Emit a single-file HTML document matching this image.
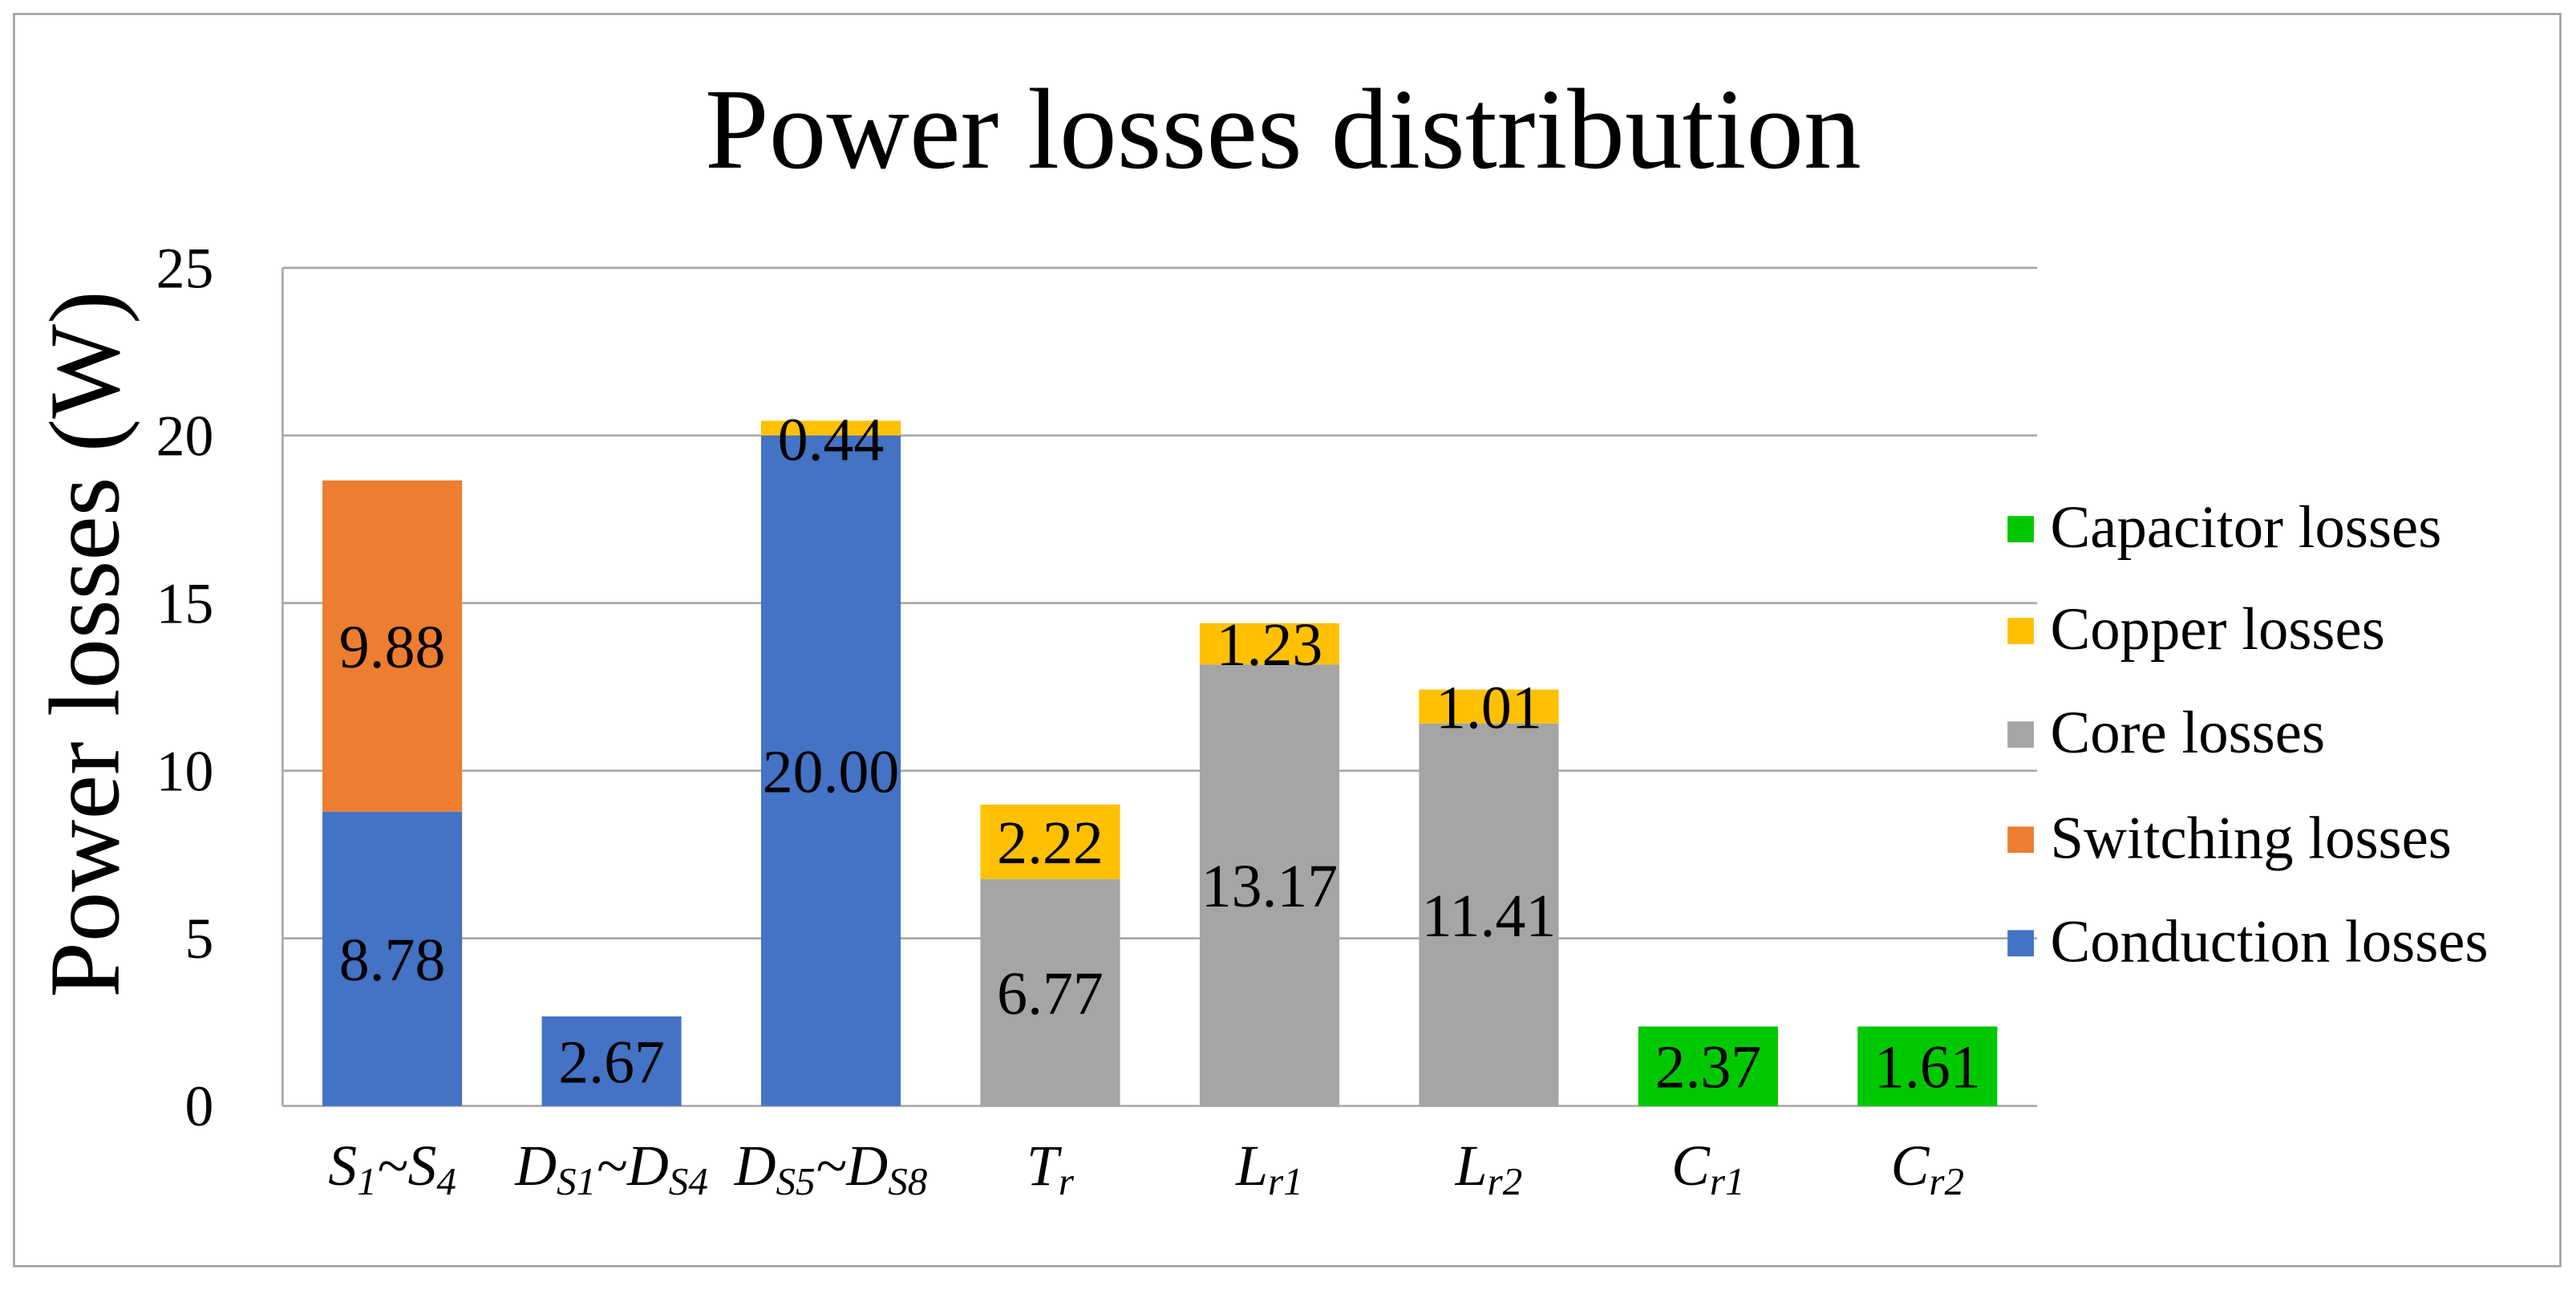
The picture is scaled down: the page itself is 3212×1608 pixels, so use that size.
<!DOCTYPE html>
<html><head><meta charset="utf-8"><style>html,body{margin:0;padding:0;background:#fff}svg{display:block}text{font-family:"Liberation Serif",serif}</style></head>
<body>
<svg id="chart" width="3212" height="1608" viewBox="0 0 1568 785" xmlns="http://www.w3.org/2000/svg">
<rect x="8.5" y="8.5" width="1550" height="762" fill="#fff" stroke="#9a9a9a" stroke-width="1.2"/>
<text x="781" y="102" font-size="70" text-anchor="middle">Power losses distribution</text>
<text transform="translate(72,392) rotate(-90)" font-size="61" text-anchor="middle">Power losses (W)</text>
<g id="grid"></g><g id="bars"></g><g id="labels"></g><g id="legend"></g>
</svg>
<script>
const categories = ["S1~S4","DS1~DS4","DS5~DS8","Tr","Lr1","Lr2","Cr1","Cr2"];
const catMain = [["S","1","~S","4"],["D","S1","~D","S4"],["D","S5","~D","S8"],["T","r"],["L","r1"],["L","r2"],["C","r1"],["C","r2"]];
const conduction = [8.78,2.67,20.00,0,0,0,0,0];
const switching = [9.88,0,0,0,0,0,0,0];
const core = [0,0,0,6.77,13.17,11.41,0,0];
const copper = [0,0,0.44,2.22,1.23,1.01,0,0];
const capacitor = [0,0,0,0,0,0,2.37,2.37];
const capacitorLabels = ["","","","","","","2.37","1.61"];
const yTicks = [0,5,10,15,20,25];
const seriesNames = ["Conduction losses","Switching losses","Core losses","Copper losses","Capacitor losses"];
const NS="http://www.w3.org/2000/svg";
const X0=172,X1=1240,Y0=673,Y1=163,YMAX=25;
const band=(X1-X0)/categories.length, bw=85;
const y=v=>Y0-(Y0-Y1)*v/YMAX;
const xc=i=>X0+band*(i+0.5);
function mk(tag,attrs,parent){const e=document.createElementNS(NS,tag);for(const k in attrs)e.setAttribute(k,attrs[k]);parent.appendChild(e);return e;}
const grid=document.getElementById('grid'),bars=document.getElementById('bars'),labels=document.getElementById('labels'),legend=document.getElementById('legend');
yTicks.forEach(t=>{
  const l=mk('line',{x1:X0,x2:X1,y1:y(t),y2:y(t),stroke:'#a8a8a8','stroke-width':1.3},grid);
  
  
  const tx=mk('text',{x:130,y:y(t)+12,'font-size':35,'text-anchor':'end'},grid);tx.textContent=t;
  
  
});
const ax=mk('line',{x1:X0,x2:X0,y1:Y1,y2:Y0,stroke:'#a8a8a8','stroke-width':1.3},grid);


const series=[{d:conduction,c:'#4472c4'},{d:switching,c:'#ed7d31'},{d:core,c:'#a5a5a5'},{d:copper,c:'#ffc000'},{d:capacitor,c:'#00c800',lab:capacitorLabels}];
categories.forEach((cat,i)=>{
  let base=0;
  series.forEach((s,si)=>{
    const v=s.d[i]; if(!v) return;
    const r=mk('rect',{x:xc(i)-bw/2,y:y(base+v),width:bw,height:y(base)-y(base+v),fill:s.c},bars);
    
    
    const txt=s.lab?s.lab[i]:v.toFixed(2);
    let ly=(y(base)+y(base+v))/2+13;
    if(v<1) ly=y(base+v)+24;
    const t=mk('text',{x:xc(i),y:ly,'font-size':37,'text-anchor':'middle'},labels);t.textContent=txt;
    
    
    base+=v;
  });
  const ct=mk('text',{x:xc(i),y:721,'font-size':35,'text-anchor':'middle','font-style':'italic'},labels);
  
  
  catMain[i].forEach((p,k)=>{const ts=mk('tspan',{},ct);ts.textContent=p;if(k%2===1){ts.setAttribute('font-size','24');ts.setAttribute('dy','6');}else if(k>0){ts.setAttribute('dy','-6');}});
});
const legOrder=[4,3,2,1,0], legY=[322,384,447,511,574];
legOrder.forEach((si,k)=>{
  const r=mk('rect',{x:1222,y:legY[k]-8,width:16,height:16,fill:series[si].c},legend);
  
  
  const t=mk('text',{x:1248,y:legY[k]+11,'font-size':36.5},legend);t.textContent=seriesNames[si];
  
  
});
</script>
</body></html>
